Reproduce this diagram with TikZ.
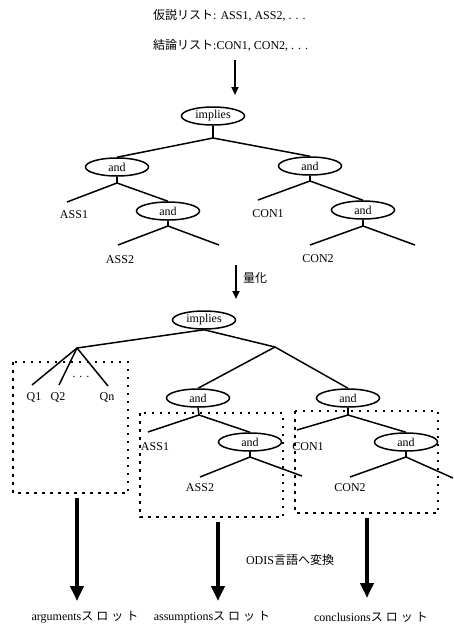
\documentclass[tikz,border=0pt]{standalone}
\usepackage{fontspec}
\setmainfont{Liberation Serif}
\newfontfamily\jp{Noto Sans CJK JP}
\usetikzlibrary{shapes.geometric,arrows.meta}
\begin{document}
\begin{tikzpicture}[x=1pt,y=-1pt,
  op/.style={ellipse,draw,line width=1.5pt,minimum width=63pt,minimum height=18pt,inner sep=0pt,font=\fontsize{12}{13}\selectfont},
  edge/.style={line width=1.5pt},
  lbl/.style={font=\fontsize{12}{13}\selectfont,inner sep=0pt},
  grp/.style={line width=1.3pt,dash pattern=on 2.5pt off 5.5pt},
  flow/.style={line width=2pt,-{Triangle[length=8pt,width=7pt]}},
  big/.style={line width=4pt,-{Triangle[length=15pt,width=13pt]}}
]
\useasboundingbox[fill=white] (0,0) rectangle (454,630);

% header text
\node[lbl,anchor=west] (t1) at (153,15) {{\jp 仮説リスト}: ASS1, ASS2, . . .};
\node[lbl,anchor=west] (t2) at (153,45) {{\jp 結論リスト}:CON1, CON2, . . .};
\coordinate (a1s) at (235,60);
\coordinate (a1e) at (235,95);
\draw[flow] (a1s) -- (a1e);

% upper tree
\node[op] (imp1) at (213,116) {implies};
\coordinate (b1) at (213,138);
\node[op] (and1L) at (117,167) {and};
\node[op] (and1R) at (310,166) {and};
\draw[edge] (imp1.south) -- (b1);
\draw[edge] (b1) -- (and1L.north);
\draw[edge] (b1) -- (and1R.north);

\coordinate (s1L) at (117,183);
\coordinate (e1) at (67,202);
\node[op] (and2L) at (168,211) {and};
\draw[edge] (and1L.south) -- (s1L);
\draw[edge] (s1L) -- (e1);
\draw[edge] (s1L) -- (and2L.north);
\node[lbl] (ass1a) at (74,215) {ASS1};

\coordinate (s2L) at (168,226);
\coordinate (e2) at (118,245);
\coordinate (e3) at (219,245);
\draw[edge] (and2L.south) -- (s2L);
\draw[edge] (s2L) -- (e2);
\draw[edge] (s2L) -- (e3);
\node[lbl] (ass2a) at (120,260) {ASS2};

\coordinate (s1R) at (310,181);
\coordinate (e4) at (258,200);
\node[op] (and2R) at (363,210) {and};
\draw[edge] (and1R.south) -- (s1R);
\draw[edge] (s1R) -- (e4);
\draw[edge] (s1R) -- (and2R.north);
\node[lbl] (con1a) at (268,214) {CON1};

\coordinate (s2R) at (363,226);
\coordinate (e5) at (310,245);
\coordinate (e6) at (415,245);
\draw[edge] (and2R.south) -- (s2R);
\draw[edge] (s2R) -- (e5);
\draw[edge] (s2R) -- (e6);
\node[lbl] (con2a) at (318,259) {CON2};

% quantification arrow
\coordinate (a2s) at (236,265);
\coordinate (a2e) at (236,299);
\draw[flow] (a2s) -- (a2e);
\node[lbl,anchor=west] (qz) at (243,278) {\jp 量化};

% lower tree
\node[op] (imp2) at (204,320) {implies};
\coordinate (bq) at (77,348);
\coordinate (br) at (275,347);
\draw[edge] (imp2.south) -- (bq);
\draw[edge] (imp2.south) -- (br);

\coordinate (q1e) at (32,385);
\coordinate (q2e) at (59,385);
\coordinate (qne) at (108,386);
\draw[edge] (bq) -- (q1e);
\draw[edge] (bq) -- (q2e);
\draw[edge] (bq) -- (qne);
\node[lbl] (q1) at (34,397) {Q1};
\node[lbl] (q2) at (58,397) {Q2};
\node[lbl] (qn) at (107,397) {Qn};
\node[lbl] (qd) at (81,377) {. . .};

\node[op] (and3L) at (198,398) {and};
\node[op] (and3R) at (348,398) {and};
\draw[edge] (br) -- (and3L.north);
\draw[edge] (br) -- (and3R.north);

\coordinate (s3L) at (199,415);
\coordinate (e7) at (148,432);
\node[op] (and4L) at (250,442) {and};
\draw[edge] (and3L.south) -- (s3L);
\draw[edge] (s3L) -- (e7);
\draw[edge] (s3L) -- (and4L.north);
\node[lbl] (ass1b) at (155,447) {ASS1};

\coordinate (s4L) at (250,457);
\coordinate (e8) at (200,477);
\coordinate (e9) at (302,476);
\draw[edge] (and4L.south) -- (s4L);
\draw[edge] (s4L) -- (e8);
\draw[edge] (s4L) -- (e9);
\node[lbl] (ass2b) at (200,488) {ASS2};

\coordinate (s3R) at (348,415);
\coordinate (e10) at (297,430);
\node[op] (and4R) at (406,442) {and};
\draw[edge] (and3R.south) -- (s3R);
\draw[edge] (s3R) -- (e10);
\draw[edge] (s3R) -- (and4R.north);
\node[lbl] (con1b) at (308,447) {CON1};

\coordinate (s4R) at (406,457);
\coordinate (e11) at (350,477);
\coordinate (e12) at (453,478);
\draw[edge] (and4R.south) -- (s4R);
\draw[edge] (s4R) -- (e11);
\draw[edge] (s4R) -- (e12);
\node[lbl] (con2b) at (350,488) {CON2};

% dotted groups
\draw[grp] (13,362) rectangle (128,493);
\draw[grp] (140,413) rectangle (283,517);
\draw[grp] (295,411) rectangle (438,513);

% conversion arrows
\coordinate (c1s) at (77,498);
\coordinate (c1e) at (77,601);
\coordinate (c2s) at (218,522);
\coordinate (c2e) at (218,601);
\coordinate (c3s) at (367,518);
\coordinate (c3e) at (367,598);
\draw[big] (c1s) -- (c1e);
\draw[big] (c2s) -- (c2e);
\draw[big] (c3s) -- (c3e);
\node[lbl] (odis) at (290,560) {ODIS{\jp 言語へ変換}};

\node[lbl] (sa) at (85,617) {arguments{\jp ス\hspace{3pt}ロ\hspace{3pt}ッ\hspace{3pt}ト}};
\node[lbl] (sb) at (212,617) {assumptions{\jp ス\hspace{3pt}ロ\hspace{3pt}ッ\hspace{3pt}ト}};
\node[lbl] (sc) at (371,617) {conclusions{\jp ス\hspace{3pt}ロ\hspace{3pt}ッ\hspace{3pt}ト}};
\end{tikzpicture}
\end{document}
